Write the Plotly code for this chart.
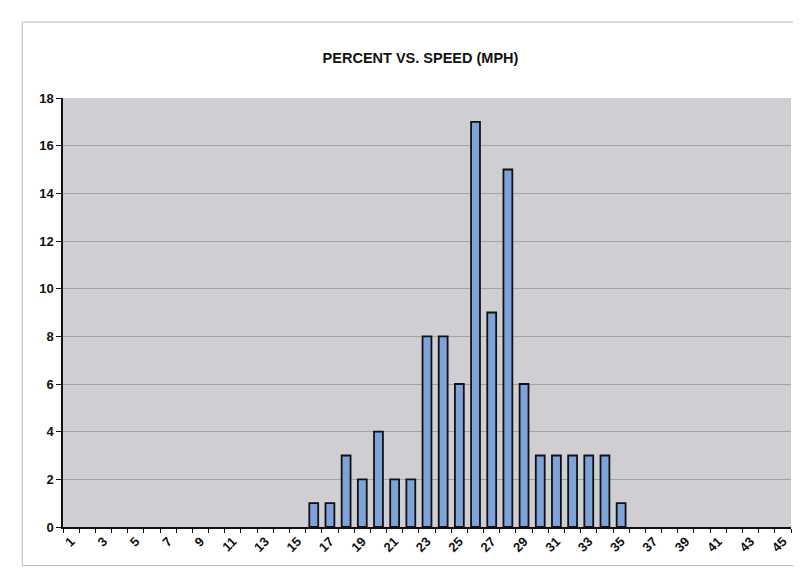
import plotly.graph_objects as go

speeds = list(range(1, 46))
percent = [0, 0, 0, 0, 0, 0, 0, 0, 0, 0, 0, 0, 0, 0, 0,
           1, 1, 3, 2, 4, 2, 2, 8, 8, 6, 17, 9, 15, 6, 3,
           3, 3, 3, 3, 1, 0, 0, 0, 0, 0, 0, 0, 0, 0, 0]
x_tick_labels = [str(v) for v in range(1, 46, 2)]
y_ticks = list(range(0, 19, 2))

outline_widths = [1.8 if v > 0 else 0 for v in percent]

fig = go.Figure()
fig.add_trace(go.Bar(
    x=speeds, y=percent,
    marker=dict(color="#7ea3da", line=dict(color="#111111", width=outline_widths)),
    showlegend=False,
))

font_family = "Liberation Sans, Arial, sans-serif"
fig.update_layout(
    width=801, height=576,
    margin=dict(l=55, r=18, t=90, b=57),
    paper_bgcolor="white",
    plot_bgcolor="#cfcfd3",
    bargap=0.45,
    title=dict(text="<b>PERCENT VS. SPEED (MPH)</b>", x=0.515, xanchor="center",
               y=0.913, yanchor="middle",
               font=dict(family=font_family, size=14.5, color="#111111")),
    xaxis=dict(
        range=[0.5, 45.5], tickmode="array",
        tickvals=[int(t) for t in x_tick_labels], ticktext=x_tick_labels,
        tickangle=-45, ticks="", showgrid=False, zeroline=False,
        showline=True, linecolor="#111111", linewidth=1.5,
        tickfont=dict(family=font_family, size=13, color="#111111", weight="bold"),
        minor=dict(tick0=0.5, dtick=1, ticks="outside", ticklen=4,
                   tickcolor="#111111", showgrid=False),
    ),
    yaxis=dict(
        range=[0, 18], tickvals=y_ticks, ticks="outside", ticklen=5,
        tickcolor="#111111", showline=True, linecolor="#111111", linewidth=1.5,
        gridcolor="#a2a2a6", gridwidth=1, zeroline=False,
        tickfont=dict(family=font_family, size=13, color="#111111", weight="bold"),
    ),
    shapes=[dict(type="rect", xref="paper", yref="paper",
                 x0=-0.056, x1=1.016, y0=-0.09, y1=1.177,
                 line=dict(color="#b8b8b8", width=1), layer="below")],
)

fig.write_html("out.html")
